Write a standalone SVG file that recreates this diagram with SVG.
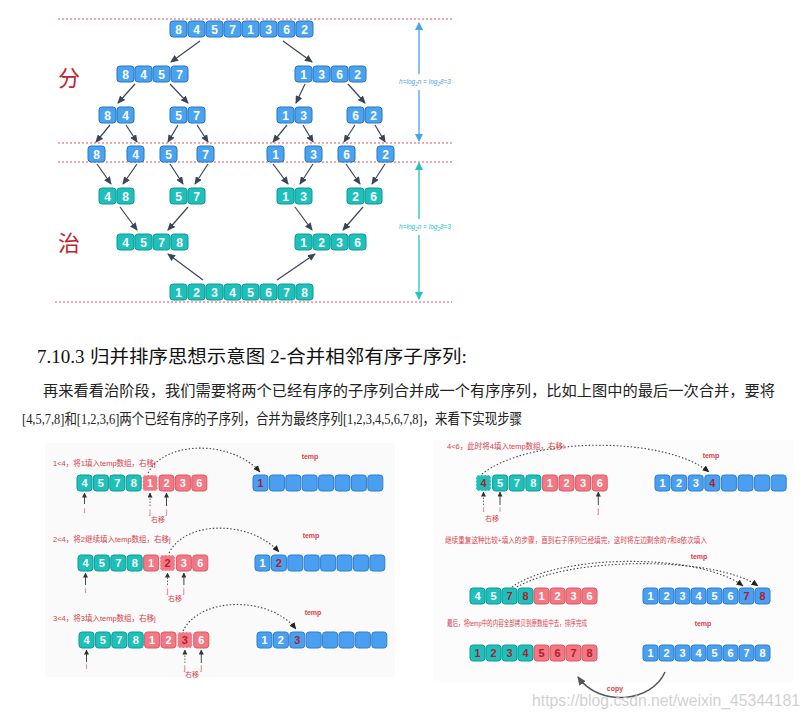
<svg xmlns="http://www.w3.org/2000/svg" width="810" height="718" viewBox="0 0 810 718">
<defs>
<style>
.tb{fill:#4aa3ef;stroke:#2a74c2;stroke-width:1}
.tt{fill:#1ec0bb;stroke:#0f9a95;stroke-width:1}
.pk{fill:#f27884;stroke:#d85a67;stroke-width:1}
.bl{fill:#4a9ff0;stroke:#2c7fd0;stroke-width:1}
.n{font-family:"Liberation Sans",Arial,sans-serif;font-weight:bold;fill:#fff;text-anchor:middle;font-size:12px}
.s{font-size:11px}
.dr{fill:#b01e2e}
.ar{stroke:#3b4555;stroke-width:1.2;fill:none;marker-end:url(#ah)}
.rd{stroke:#e0505e;stroke-width:1;stroke-dasharray:2 2;fill:none}
.pt{stroke:#333;stroke-width:0.9;fill:none;marker-end:url(#sm)}
.pd{stroke:#555;stroke-width:0.9;fill:none;stroke-dasharray:1.5 1.5;marker-end:url(#sm)}
.arc{stroke:#444;stroke-width:1.1;fill:none;stroke-dasharray:1.5 2;marker-end:url(#am)}
.lb{font-family:"Liberation Sans","Noto Sans CJK SC",sans-serif;font-size:7.5px;fill:#d9404a}
.tp{font-family:"Liberation Sans",sans-serif;font-size:7px;font-weight:bold;fill:#d9404a;text-anchor:middle}
.ij{font-family:"Liberation Sans","Noto Sans CJK SC",sans-serif;font-size:7px;fill:#d9404a;text-anchor:middle}
.hl{stroke-dasharray:2 1.5;stroke:#fff}
.h{font-family:"Liberation Sans",sans-serif;font-size:6.5px;font-style:italic;text-anchor:middle}
</style>
<marker id="ah" markerUnits="userSpaceOnUse" markerWidth="8" markerHeight="7" refX="7" refY="3.5" orient="auto"><path d="M0,0 L8,3.5 L0,7 z" fill="#3b4555"/></marker>
<marker id="sm" markerUnits="userSpaceOnUse" markerWidth="5" markerHeight="5" refX="4.5" refY="2.5" orient="auto"><path d="M0,0 L5,2.5 L0,5 z" fill="#333"/></marker>
<marker id="am" markerUnits="userSpaceOnUse" markerWidth="7" markerHeight="6" refX="6.5" refY="3" orient="auto"><path d="M0,0 L7,3 L0,6 z" fill="#222"/></marker>
<marker id="bh" markerUnits="userSpaceOnUse" markerWidth="8" markerHeight="8" refX="7" refY="4" orient="auto"><path d="M0,0 L8,4 L0,8 z" fill="#4aa3ef"/></marker>
<marker id="th" markerUnits="userSpaceOnUse" markerWidth="8" markerHeight="8" refX="7" refY="4" orient="auto"><path d="M0,0 L8,4 L0,8 z" fill="#22c4c0"/></marker>
<marker id="ch" markerUnits="userSpaceOnUse" markerWidth="9" markerHeight="8" refX="8" refY="4" orient="auto"><path d="M0,0 L9,4 L0,8 z" fill="#555"/></marker>
</defs>
<rect width="810" height="718" fill="#fff"/>

<!-- guide lines -->
<g id="guides">
<line class="rd" x1="58" y1="19" x2="454" y2="19"/>
<line class="rd" x1="58" y1="143" x2="454" y2="143"/>
<line class="rd" x1="58" y1="162" x2="452" y2="162"/>
<line class="rd" x1="55" y1="302" x2="452" y2="302"/>
<line x1="419" y1="74" x2="419" y2="23" stroke="#4aa3ef" stroke-width="1.3" marker-end="url(#bh)"/>
<line x1="419" y1="90" x2="419" y2="141" stroke="#4aa3ef" stroke-width="1.3" marker-end="url(#bh)"/>
<text class="h" x="425" y="84" fill="#4aa3ef">h=log<tspan font-size="4.5" dy="1.5">2</tspan><tspan dy="-1.5">n = log</tspan><tspan font-size="4.5" dy="1.5">2</tspan><tspan dy="-1.5">8=3</tspan></text>
<line x1="419" y1="219" x2="419" y2="163" stroke="#22c4c0" stroke-width="1.3" marker-end="url(#th)"/>
<line x1="419" y1="235" x2="419" y2="299" stroke="#22c4c0" stroke-width="1.3" marker-end="url(#th)"/>
<text class="h" x="425" y="229" fill="#22c4c0">h=log<tspan font-size="4.5" dy="1.5">2</tspan><tspan dy="-1.5">n = log</tspan><tspan font-size="4.5" dy="1.5">2</tspan><tspan dy="-1.5">8=3</tspan></text>
<text x="58" y="86" font-family="Noto Sans CJK SC,sans-serif" font-size="22" fill="#c0242c">分</text>
<text x="58" y="251" font-family="Noto Sans CJK SC,sans-serif" font-size="22" fill="#c0242c">治</text>
</g>

<!-- tree connectors -->
<g id="tree-connectors">
<line class="ar" x1="200" y1="41" x2="171" y2="62"/>
<line class="ar" x1="283" y1="41" x2="312" y2="62"/>
<line class="ar" x1="135" y1="84" x2="118" y2="103"/>
<line class="ar" x1="170" y1="84" x2="188" y2="103"/>
<line class="ar" x1="305" y1="84" x2="296" y2="103"/>
<line class="ar" x1="348" y1="84" x2="365" y2="103"/>
<line class="ar" x1="110" y1="125" x2="96" y2="142"/>
<line class="ar" x1="126" y1="125" x2="137" y2="142"/>
<line class="ar" x1="178" y1="125" x2="168" y2="142"/>
<line class="ar" x1="197" y1="125" x2="208" y2="142"/>
<line class="ar" x1="287" y1="125" x2="273" y2="142"/>
<line class="ar" x1="303" y1="125" x2="313" y2="142"/>
<line class="ar" x1="355" y1="125" x2="344" y2="142"/>
<line class="ar" x1="375" y1="125" x2="385" y2="142"/>
<line class="ar" x1="97" y1="164" x2="111" y2="184"/>
<line class="ar" x1="137" y1="164" x2="123" y2="184"/>
<line class="ar" x1="170" y1="164" x2="183" y2="184"/>
<line class="ar" x1="208" y1="164" x2="195" y2="184"/>
<line class="ar" x1="273" y1="164" x2="288" y2="184"/>
<line class="ar" x1="313" y1="164" x2="300" y2="184"/>
<line class="ar" x1="346" y1="164" x2="360" y2="184"/>
<line class="ar" x1="385" y1="164" x2="372" y2="184"/>
<line class="ar" x1="120" y1="207" x2="137" y2="230"/>
<line class="ar" x1="188" y1="207" x2="168" y2="230"/>
<line class="ar" x1="295" y1="207" x2="312" y2="230"/>
<line class="ar" x1="363" y1="207" x2="343" y2="230"/>
<line class="ar" x1="203" y1="280" x2="168" y2="254"/>
<line class="ar" x1="277" y1="280" x2="315" y2="254"/>
</g>

<!-- tree nodes -->
<g id="t-root" transform="translate(170,21)">
<rect class="tb" x="0" y="0" width="17" height="16" rx="3"/><rect class="tb" x="18" y="0" width="17" height="16" rx="3"/><rect class="tb" x="36" y="0" width="17" height="16" rx="3"/><rect class="tb" x="54" y="0" width="17" height="16" rx="3"/><rect class="tb" x="72" y="0" width="17" height="16" rx="3"/><rect class="tb" x="90" y="0" width="17" height="16" rx="3"/><rect class="tb" x="108" y="0" width="17" height="16" rx="3"/><rect class="tb" x="126" y="0" width="17" height="16" rx="3"/>
<text class="n" y="12.5"><tspan x="8.5">8</tspan><tspan x="26.5">4</tspan><tspan x="44.5">5</tspan><tspan x="62.5">7</tspan><tspan x="80.5">1</tspan><tspan x="98.5">3</tspan><tspan x="116.5">6</tspan><tspan x="134.5">2</tspan></text>
</g>
<g id="t-8457" transform="translate(117,66)">
<rect class="tb" x="0" y="0" width="17" height="16" rx="3"/><rect class="tb" x="18" y="0" width="17" height="16" rx="3"/><rect class="tb" x="36" y="0" width="17" height="16" rx="3"/><rect class="tb" x="54" y="0" width="17" height="16" rx="3"/>
<text class="n" y="12.5"><tspan x="8.5">8</tspan><tspan x="26.5">4</tspan><tspan x="44.5">5</tspan><tspan x="62.5">7</tspan></text>
</g>
<g id="t-1362" transform="translate(295,66)">
<rect class="tb" x="0" y="0" width="17" height="16" rx="3"/><rect class="tb" x="18" y="0" width="17" height="16" rx="3"/><rect class="tb" x="36" y="0" width="17" height="16" rx="3"/><rect class="tb" x="54" y="0" width="17" height="16" rx="3"/>
<text class="n" y="12.5"><tspan x="8.5">1</tspan><tspan x="26.5">3</tspan><tspan x="44.5">6</tspan><tspan x="62.5">2</tspan></text>
</g>
<g id="t-84" transform="translate(99,107)"><rect class="tb" x="0" y="0" width="17" height="16" rx="3"/><rect class="tb" x="18" y="0" width="17" height="16" rx="3"/><text class="n" y="12.5"><tspan x="8.5">8</tspan><tspan x="26.5">4</tspan></text></g>
<g id="t-57" transform="translate(170,107)"><rect class="tb" x="0" y="0" width="17" height="16" rx="3"/><rect class="tb" x="18" y="0" width="17" height="16" rx="3"/><text class="n" y="12.5"><tspan x="8.5">5</tspan><tspan x="26.5">7</tspan></text></g>
<g id="t-13" transform="translate(277,107)"><rect class="tb" x="0" y="0" width="17" height="16" rx="3"/><rect class="tb" x="18" y="0" width="17" height="16" rx="3"/><text class="n" y="12.5"><tspan x="8.5">1</tspan><tspan x="26.5">3</tspan></text></g>
<g id="t-62" transform="translate(347,107)"><rect class="tb" x="0" y="0" width="17" height="16" rx="3"/><rect class="tb" x="18" y="0" width="17" height="16" rx="3"/><text class="n" y="12.5"><tspan x="8.5">6</tspan><tspan x="26.5">2</tspan></text></g>
<g id="t-s8" transform="translate(88,146)"><rect class="tb" width="17" height="16" rx="3"/><text class="n" x="8.5" y="12.5">8</text></g>
<g id="t-s4" transform="translate(127,146)"><rect class="tb" width="17" height="16" rx="3"/><text class="n" x="8.5" y="12.5">4</text></g>
<g id="t-s5" transform="translate(160,146)"><rect class="tb" width="17" height="16" rx="3"/><text class="n" x="8.5" y="12.5">5</text></g>
<g id="t-s7" transform="translate(197,146)"><rect class="tb" width="17" height="16" rx="3"/><text class="n" x="8.5" y="12.5">7</text></g>
<g id="t-s1" transform="translate(267,146)"><rect class="tb" width="17" height="16" rx="3"/><text class="n" x="8.5" y="12.5">1</text></g>
<g id="t-s3" transform="translate(305,146)"><rect class="tb" width="17" height="16" rx="3"/><text class="n" x="8.5" y="12.5">3</text></g>
<g id="t-s6" transform="translate(338,146)"><rect class="tb" width="17" height="16" rx="3"/><text class="n" x="8.5" y="12.5">6</text></g>
<g id="t-s2" transform="translate(377,146)"><rect class="tb" width="17" height="16" rx="3"/><text class="n" x="8.5" y="12.5">2</text></g>
<g id="m-48" transform="translate(99,188)"><rect class="tt" x="0" y="0" width="17" height="16" rx="3"/><rect class="tt" x="18" y="0" width="17" height="16" rx="3"/><text class="n" y="12.5"><tspan x="8.5">4</tspan><tspan x="26.5">8</tspan></text></g>
<g id="m-57" transform="translate(170,188)"><rect class="tt" x="0" y="0" width="17" height="16" rx="3"/><rect class="tt" x="18" y="0" width="17" height="16" rx="3"/><text class="n" y="12.5"><tspan x="8.5">5</tspan><tspan x="26.5">7</tspan></text></g>
<g id="m-13" transform="translate(277,188)"><rect class="tt" x="0" y="0" width="17" height="16" rx="3"/><rect class="tt" x="18" y="0" width="17" height="16" rx="3"/><text class="n" y="12.5"><tspan x="8.5">1</tspan><tspan x="26.5">3</tspan></text></g>
<g id="m-26" transform="translate(347,188)"><rect class="tt" x="0" y="0" width="17" height="16" rx="3"/><rect class="tt" x="18" y="0" width="17" height="16" rx="3"/><text class="n" y="12.5"><tspan x="8.5">2</tspan><tspan x="26.5">6</tspan></text></g>
<g id="m-4578" transform="translate(117,234)">
<rect class="tt" x="0" y="0" width="17" height="16" rx="3"/><rect class="tt" x="18" y="0" width="17" height="16" rx="3"/><rect class="tt" x="36" y="0" width="17" height="16" rx="3"/><rect class="tt" x="54" y="0" width="17" height="16" rx="3"/>
<text class="n" y="12.5"><tspan x="8.5">4</tspan><tspan x="26.5">5</tspan><tspan x="44.5">7</tspan><tspan x="62.5">8</tspan></text>
</g>
<g id="m-1236" transform="translate(295,234)">
<rect class="tt" x="0" y="0" width="17" height="16" rx="3"/><rect class="tt" x="18" y="0" width="17" height="16" rx="3"/><rect class="tt" x="36" y="0" width="17" height="16" rx="3"/><rect class="tt" x="54" y="0" width="17" height="16" rx="3"/>
<text class="n" y="12.5"><tspan x="8.5">1</tspan><tspan x="26.5">2</tspan><tspan x="44.5">3</tspan><tspan x="62.5">6</tspan></text>
</g>
<g id="m-final" transform="translate(170,284)">
<rect class="tt" x="0" y="0" width="17" height="16" rx="3"/><rect class="tt" x="18" y="0" width="17" height="16" rx="3"/><rect class="tt" x="36" y="0" width="17" height="16" rx="3"/><rect class="tt" x="54" y="0" width="17" height="16" rx="3"/><rect class="tt" x="72" y="0" width="17" height="16" rx="3"/><rect class="tt" x="90" y="0" width="17" height="16" rx="3"/><rect class="tt" x="108" y="0" width="17" height="16" rx="3"/><rect class="tt" x="126" y="0" width="17" height="16" rx="3"/>
<text class="n" y="12.5"><tspan x="8.5">1</tspan><tspan x="26.5">2</tspan><tspan x="44.5">3</tspan><tspan x="62.5">4</tspan><tspan x="80.5">5</tspan><tspan x="98.5">6</tspan><tspan x="116.5">7</tspan><tspan x="134.5">8</tspan></text>
</g>

<!-- text section -->
<g id="heading">
<text x="37" y="363" font-family="Liberation Serif,serif" font-size="19" fill="#111">7.10.3</text>
<text x="90" y="363" font-family="Liberation Serif,Noto Sans CJK SC,sans-serif" font-size="18" fill="#111" textLength="377" lengthAdjust="spacingAndGlyphs">归并排序思想示意图 2-合并相邻有序子序列:</text>
</g>
<g id="paragraph" font-family="Liberation Serif,Noto Sans CJK SC,serif" font-size="15" fill="#222">
<text x="43" y="396" textLength="732" lengthAdjust="spacingAndGlyphs">再来看看治阶段，我们需要将两个已经有序的子序列合并成一个有序序列，比如上图中的最后一次合并，要将</text>
<text x="22" y="424" textLength="500" lengthAdjust="spacingAndGlyphs">[4,5,7,8]和[1,2,3,6]两个已经有序的子序列，合并为最终序列[1,2,3,4,5,6,7,8]，来看下实现步骤</text>
</g>

<!-- panels background -->
<rect x="45" y="443" width="350" height="234" fill="#fafafa"/>
<rect x="433" y="440" width="360" height="242" fill="#fcfcfc"/>

<!-- bottom connectors -->
<g id="step-connectors">
<path class="arc" d="M148,473 C165,440 232,440 260,472"/>
<path class="arc" d="M169,553 C185,520 250,520 279,552"/>
<path class="arc" d="M183,631 C200,596 270,596 296,629"/>
<path class="arc" d="M482,474 C530,436 665,436 709,472"/>
<path class="arc" d="M512,587 C560,553 700,553 743,586"/>
<path class="arc" d="M517,587 C570,556 716,556 758,586"/>
<line class="pt" x1="84.5" y1="504" x2="84.5" y2="493"/>
<line class="pd" x1="150" y1="506" x2="150" y2="493"/>
<line class="pt" x1="166.5" y1="506" x2="166.5" y2="493"/>
<line class="pt" x1="85.5" y1="585" x2="85.5" y2="573"/>
<line class="pd" x1="167.5" y1="585" x2="167.5" y2="573"/>
<line class="pt" x1="183.9" y1="585" x2="183.9" y2="573"/>
<line class="pt" x1="86.5" y1="662" x2="86.5" y2="650"/>
<line class="pd" x1="184.9" y1="663" x2="184.9" y2="650"/>
<line class="pt" x1="201.3" y1="663" x2="201.3" y2="650"/>
<line class="pd" x1="483.5" y1="505" x2="483.5" y2="492"/>
<line class="pt" x1="500" y1="505" x2="500" y2="492"/>
<line class="pt" x1="598.3" y1="505" x2="598.3" y2="492"/>
<path d="M665,672 C652,702 600,708 578,677" stroke="#555" stroke-width="1.5" fill="none" marker-end="url(#ch)"/>
</g>

<!-- step labels -->
<g id="step-labels">
<text class="lb" x="53" y="466">1&lt;4，将1填入temp数组，右移j</text>
<text class="tp" x="310" y="459">temp</text>
<text class="ij" x="84.5" y="513">i</text><text class="ij" x="150" y="514">j</text><text class="ij" x="166.5" y="514">j</text><text class="ij" x="158" y="522">右移</text>
<text class="lb" x="53" y="542">2&lt;4，将2继续填入temp数组，右移j</text>
<text class="tp" x="311" y="538">temp</text>
<text class="ij" x="85.5" y="593">i</text><text class="ij" x="167.5" y="593">j</text><text class="ij" x="183.9" y="593">j</text><text class="ij" x="175" y="601">右移</text>
<text class="lb" x="53" y="621">3&lt;4，将3填入temp数组，右移j</text>
<text class="tp" x="313" y="615">temp</text>
<text class="ij" x="86.5" y="669">i</text><text class="ij" x="184.9" y="670">j</text><text class="ij" x="201.3" y="670">j</text><text class="ij" x="192" y="677">右移</text>
<text class="lb" x="447" y="449">4&lt;6，此时将4填入temp数组，右移i</text>
<text class="tp" x="711" y="458">temp</text>
<text class="ij" x="483.5" y="512">i</text><text class="ij" x="500" y="512">i</text><text class="ij" x="492" y="521">右移</text><text class="ij" x="598.3" y="513">j</text>
<text class="lb" x="445" y="543" textLength="262" lengthAdjust="spacingAndGlyphs">继续重复这种比较+填入的步骤，直到右子序列已经填完，这时将左边剩余的7和8依次填入</text>
<text class="tp" x="699" y="559">temp</text>
<text class="lb" x="447" y="626" textLength="140" lengthAdjust="spacingAndGlyphs">最后，将temp中的内容全部拷贝到原数组中去，排序完成</text>
<text class="tp" x="703" y="626">temp</text>
<text class="tp" x="615" y="691" font-size="7.5">copy</text>
</g>

<!-- step arrays -->
<g id="s1-arr" transform="translate(77,475)">
<rect class="tt" x="0" width="15" height="16" rx="3"/><rect class="tt" x="16.4" width="15" height="16" rx="3"/><rect class="tt" x="32.8" width="15" height="16" rx="3"/><rect class="tt" x="49.2" width="15" height="16" rx="3"/><rect class="pk hl" x="65.6" width="15" height="16" rx="3"/><rect class="pk" x="82" width="15" height="16" rx="3"/><rect class="pk" x="98.4" width="15" height="16" rx="3"/><rect class="pk" x="114.8" width="15" height="16" rx="3"/>
<text class="n s" y="12"><tspan x="7.5">4</tspan><tspan x="23.9">5</tspan><tspan x="40.3">7</tspan><tspan x="56.7">8</tspan><tspan x="73.1">1</tspan><tspan x="89.5">2</tspan><tspan x="105.9">3</tspan><tspan x="122.3">6</tspan></text>
</g>
<g id="s1-temp" transform="translate(253,475)">
<rect class="bl" x="0" width="15" height="16" rx="3"/><rect class="bl" x="16.4" width="15" height="16" rx="3"/><rect class="bl" x="32.8" width="15" height="16" rx="3"/><rect class="bl" x="49.2" width="15" height="16" rx="3"/><rect class="bl" x="65.6" width="15" height="16" rx="3"/><rect class="bl" x="82" width="15" height="16" rx="3"/><rect class="bl" x="98.4" width="15" height="16" rx="3"/><rect class="bl" x="114.8" width="15" height="16" rx="3"/>
<text class="n s dr" x="7.5" y="12">1</text>
</g>
<g id="s2-arr" transform="translate(78,555)">
<rect class="tt" x="0" width="15" height="16" rx="3"/><rect class="tt" x="16.4" width="15" height="16" rx="3"/><rect class="tt" x="32.8" width="15" height="16" rx="3"/><rect class="tt" x="49.2" width="15" height="16" rx="3"/><rect class="pk" x="65.6" width="15" height="16" rx="3"/><rect class="pk hl" x="82" width="15" height="16" rx="3"/><rect class="pk" x="98.4" width="15" height="16" rx="3"/><rect class="pk" x="114.8" width="15" height="16" rx="3"/>
<text class="n s" y="12"><tspan x="7.5">4</tspan><tspan x="23.9">5</tspan><tspan x="40.3">7</tspan><tspan x="56.7">8</tspan><tspan x="73.1">1</tspan><tspan x="89.5" class="dr">2</tspan><tspan x="105.9">3</tspan><tspan x="122.3">6</tspan></text>
</g>
<g id="s2-temp" transform="translate(255,555)">
<rect class="bl" x="0" width="15" height="16" rx="3"/><rect class="bl" x="16.4" width="15" height="16" rx="3"/><rect class="bl" x="32.8" width="15" height="16" rx="3"/><rect class="bl" x="49.2" width="15" height="16" rx="3"/><rect class="bl" x="65.6" width="15" height="16" rx="3"/><rect class="bl" x="82" width="15" height="16" rx="3"/><rect class="bl" x="98.4" width="15" height="16" rx="3"/><rect class="bl" x="114.8" width="15" height="16" rx="3"/>
<text class="n s" y="12"><tspan x="7.5">1</tspan><tspan x="23.9" class="dr">2</tspan></text>
</g>
<g id="s3-arr" transform="translate(79,632)">
<rect class="tt" x="0" width="15" height="16" rx="3"/><rect class="tt" x="16.4" width="15" height="16" rx="3"/><rect class="tt" x="32.8" width="15" height="16" rx="3"/><rect class="tt" x="49.2" width="15" height="16" rx="3"/><rect class="pk" x="65.6" width="15" height="16" rx="3"/><rect class="pk" x="82" width="15" height="16" rx="3"/><rect class="pk hl" x="98.4" width="15" height="16" rx="3"/><rect class="pk" x="114.8" width="15" height="16" rx="3"/>
<text class="n s" y="12"><tspan x="7.5">4</tspan><tspan x="23.9">5</tspan><tspan x="40.3">7</tspan><tspan x="56.7">8</tspan><tspan x="73.1">1</tspan><tspan x="89.5">2</tspan><tspan x="105.9" class="dr">3</tspan><tspan x="122.3">6</tspan></text>
</g>
<g id="s3-temp" transform="translate(257,632)">
<rect class="bl" x="0" width="15" height="16" rx="3"/><rect class="bl" x="16.4" width="15" height="16" rx="3"/><rect class="bl" x="32.8" width="15" height="16" rx="3"/><rect class="bl" x="49.2" width="15" height="16" rx="3"/><rect class="bl" x="65.6" width="15" height="16" rx="3"/><rect class="bl" x="82" width="15" height="16" rx="3"/><rect class="bl" x="98.4" width="15" height="16" rx="3"/><rect class="bl" x="114.8" width="15" height="16" rx="3"/>
<text class="n s" y="12"><tspan x="7.5">1</tspan><tspan x="23.9">2</tspan><tspan x="40.3" class="dr">3</tspan></text>
</g>
<g id="s4-arr" transform="translate(476,475)">
<rect class="tt hl" x="0" width="15" height="16" rx="3"/><rect class="tt" x="16.6" width="15" height="16" rx="3"/><rect class="tt" x="33.2" width="15" height="16" rx="3"/><rect class="tt" x="49.8" width="15" height="16" rx="3"/><rect class="pk" x="66.4" width="15" height="16" rx="3"/><rect class="pk" x="83" width="15" height="16" rx="3"/><rect class="pk" x="99.6" width="15" height="16" rx="3"/><rect class="pk" x="116.2" width="15" height="16" rx="3"/>
<text class="n s" y="12"><tspan x="7.5" class="dr">4</tspan><tspan x="24.1">5</tspan><tspan x="40.7">7</tspan><tspan x="57.3">8</tspan><tspan x="73.9">1</tspan><tspan x="90.5">2</tspan><tspan x="107.1">3</tspan><tspan x="123.7">6</tspan></text>
</g>
<g id="s4-temp" transform="translate(655,475)">
<rect class="bl" x="0" width="15" height="16" rx="3"/><rect class="bl" x="16.6" width="15" height="16" rx="3"/><rect class="bl" x="33.2" width="15" height="16" rx="3"/><rect class="bl" x="49.8" width="15" height="16" rx="3"/><rect class="bl" x="66.4" width="15" height="16" rx="3"/><rect class="bl" x="83" width="15" height="16" rx="3"/><rect class="bl" x="99.6" width="15" height="16" rx="3"/><rect class="bl" x="116.2" width="15" height="16" rx="3"/>
<text class="n s" y="12"><tspan x="7.5">1</tspan><tspan x="24.1">2</tspan><tspan x="40.7">3</tspan><tspan x="57.3" class="dr">4</tspan></text>
</g>
<g id="s5-arr" transform="translate(470,588)">
<rect class="tt" x="0" width="15" height="16" rx="3"/><rect class="tt" x="16" width="15" height="16" rx="3"/><rect class="tt" x="32" width="15" height="16" rx="3"/><rect class="tt" x="48" width="15" height="16" rx="3"/><rect class="pk" x="64" width="15" height="16" rx="3"/><rect class="pk" x="80" width="15" height="16" rx="3"/><rect class="pk" x="96" width="15" height="16" rx="3"/><rect class="pk" x="112" width="15" height="16" rx="3"/>
<text class="n s" y="12"><tspan x="7.5">4</tspan><tspan x="23.5">5</tspan><tspan x="39.5" class="dr">7</tspan><tspan x="55.5" class="dr">8</tspan><tspan x="71.5">1</tspan><tspan x="87.5">2</tspan><tspan x="103.5">3</tspan><tspan x="119.5">6</tspan></text>
</g>
<g id="s5-temp" transform="translate(643,588)">
<rect class="bl" x="0" width="15" height="16" rx="3"/><rect class="bl" x="16" width="15" height="16" rx="3"/><rect class="bl" x="32" width="15" height="16" rx="3"/><rect class="bl" x="48" width="15" height="16" rx="3"/><rect class="bl" x="64" width="15" height="16" rx="3"/><rect class="bl" x="80" width="15" height="16" rx="3"/><rect class="bl" x="96" width="15" height="16" rx="3"/><rect class="bl" x="112" width="15" height="16" rx="3"/>
<text class="n s" y="12"><tspan x="7.5">1</tspan><tspan x="23.5">2</tspan><tspan x="39.5">3</tspan><tspan x="55.5">4</tspan><tspan x="71.5">5</tspan><tspan x="87.5">6</tspan><tspan x="103.5" class="dr">7</tspan><tspan x="119.5" class="dr">8</tspan></text>
</g>
<g id="s6-arr" transform="translate(470,645)">
<rect class="tt" x="0" width="15" height="16" rx="3"/><rect class="tt" x="16" width="15" height="16" rx="3"/><rect class="tt" x="32" width="15" height="16" rx="3"/><rect class="tt" x="48" width="15" height="16" rx="3"/><rect class="pk" x="64" width="15" height="16" rx="3"/><rect class="pk" x="80" width="15" height="16" rx="3"/><rect class="pk" x="96" width="15" height="16" rx="3"/><rect class="pk" x="112" width="15" height="16" rx="3"/>
<text class="n s dr" y="12"><tspan x="7.5">1</tspan><tspan x="23.5">2</tspan><tspan x="39.5">3</tspan><tspan x="55.5">4</tspan><tspan x="71.5">5</tspan><tspan x="87.5">6</tspan><tspan x="103.5">7</tspan><tspan x="119.5">8</tspan></text>
</g>
<g id="s6-temp" transform="translate(643,645)">
<rect class="bl" x="0" width="15" height="16" rx="3"/><rect class="bl" x="16" width="15" height="16" rx="3"/><rect class="bl" x="32" width="15" height="16" rx="3"/><rect class="bl" x="48" width="15" height="16" rx="3"/><rect class="bl" x="64" width="15" height="16" rx="3"/><rect class="bl" x="80" width="15" height="16" rx="3"/><rect class="bl" x="96" width="15" height="16" rx="3"/><rect class="bl" x="112" width="15" height="16" rx="3"/>
<text class="n s" y="12"><tspan x="7.5">1</tspan><tspan x="23.5">2</tspan><tspan x="39.5">3</tspan><tspan x="55.5">4</tspan><tspan x="71.5">5</tspan><tspan x="87.5">6</tspan><tspan x="103.5">7</tspan><tspan x="119.5">8</tspan></text>
</g>

<text x="532" y="706" font-family="Liberation Sans,sans-serif" font-size="16" fill="#c8c8c8" fill-opacity="0.85" textLength="268" lengthAdjust="spacingAndGlyphs">https://blog.csdn.net/weixin_45344181</text>
</svg>
